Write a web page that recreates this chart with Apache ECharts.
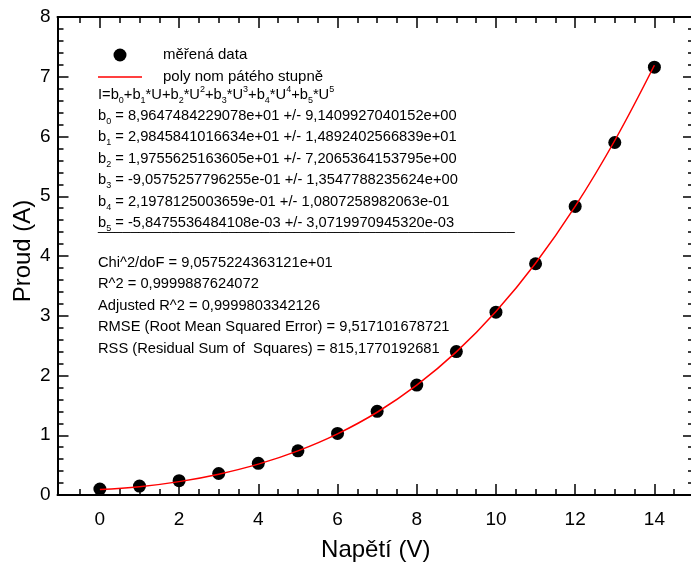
<!DOCTYPE html>
<html><head><meta charset="utf-8">
<script src="https://cdn.jsdelivr.net/npm/echarts@6/dist/echarts.min.js"></script>
<style>html,body{margin:0;padding:0;background:#fff}#c{width:691px;height:564px}</style>
</head><body><div id="c"></div><script>
// ---- data ----
const voltage = [0, 1, 2, 3, 4, 5, 6, 7, 8, 9, 10, 11, 12, 13, 14];
const current = [0.10, 0.15, 0.24, 0.36, 0.53, 0.74, 1.03, 1.40, 1.84, 2.40, 3.06, 3.87, 4.83, 5.90, 7.16];
const fitCurrent = [0.090, 0.138, 0.224, 0.349, 0.517, 0.739, 1.024, 1.385, 1.838, 2.395, 3.071, 3.879, 4.830, 5.933, 7.192];
const xTickLabels = [0, 2, 4, 6, 8, 10, 12, 14];
const xMinorTicks = [-0.5, 0.5, 1, 1.5, 2.5, 3, 3.5, 4.5, 5, 5.5, 6.5, 7, 7.5, 8.5, 9, 9.5, 10.5, 11, 11.5, 12.5, 13, 13.5, 14.5];
const xRange = [-1.07, 15];
const yRange = [0, 8];
const legendNames = ['měřená data', 'poly nom pátého stupně'];
const modelLine = 'I=b{s|0}+b{s|1}*U+b{s|2}*U{p|2}+b{s|3}*U{p|3}+b{s|4}*U{p|4}+b{s|5}*U{p|5}';
const coefLines = [
  'b{s|0} = 8,9647484229078e+01 +/- 9,1409927040152e+00',
  'b{s|1} = 2,9845841016634e+01 +/- 1,4892402566839e+01',
  'b{s|2} = 1,9755625163605e+01 +/- 7,2065364153795e+00',
  'b{s|3} = -9,0575257796255e-01 +/- 1,3547788235624e+00',
  'b{s|4} = 2,1978125003659e-01 +/- 1,0807258982063e-01',
  'b{s|5} = -5,8475536484108e-03 +/- 3,0719970945320e-03'
];
const statLines = [
  'Chi^2/doF = 9,0575224363121e+01',
  'R^2 = 0,9999887624072',
  'Adjusted R^2 = 0,9999803342126',
  'RMSE (Root Mean Squared Error) = 9,517101678721',
  'RSS (Residual Sum of  Squares) = 815,1770192681'
];

// ---- styling ----
const F = "'Liberation Sans', Arial, sans-serif";
const black = '#000';
const lineSt = {color: black, width: 2};
const tickSt = {color: black, width: 1.5};
const FS = 14.7;
const rich = {
  s: {fontSize: 9, lineHeight: 10, verticalAlign: 'bottom', fontFamily: F, fill: black},
  p: {fontSize: 9, lineHeight: 12, verticalAlign: 'top', fontFamily: F, fill: black}
};
function txt(str, y) {
  return {type: 'text', x: 98, y: y, silent: true,
    style: {text: str, fill: black, fontSize: FS, fontFamily: F, lineHeight: 20, verticalAlign: 'middle', rich: rich}};
}
const graphics = [txt(modelLine, 95)];
coefLines.forEach((s, i) => graphics.push(txt(s, 116 + 21.4 * i)));
graphics.push(txt('_'.repeat(51), 226));
statLines.forEach((s, i) => graphics.push(txt(s, 263 + 21.4 * i)));

function xMajor(pos, withLabels) {
  return {type: 'value', position: pos, min: xRange[0], max: xRange[1],
    axisLine: {show: true, onZero: false, lineStyle: lineSt},
    axisTick: {show: true, inside: true, length: 11, lineStyle: tickSt, customValues: xTickLabels},
    axisLabel: withLabels ? {customValues: xTickLabels, fontSize: 19, color: black, fontFamily: F, margin: 15}
                          : {show: false},
    splitLine: {show: false},
    name: withLabels ? 'Napětí (V)' : '', nameLocation: 'middle', nameGap: 43,
    nameTextStyle: {fontSize: 24, color: black, fontFamily: F}};
}
function xMinor(pos) {
  return {type: 'value', position: pos, min: xRange[0], max: xRange[1],
    axisLine: {show: false, onZero: false},
    axisTick: {show: true, inside: true, length: 6, lineStyle: tickSt, customValues: xMinorTicks},
    axisLabel: {show: false}, splitLine: {show: false}};
}
function yAx(pos, withLabels) {
  return {type: 'value', position: pos, min: yRange[0], max: yRange[1], interval: 1,
    axisLine: {show: true, onZero: false, lineStyle: lineSt},
    axisTick: {show: true, inside: true, length: 11, lineStyle: tickSt},
    minorTick: {show: true, splitNumber: 5, length: 6, lineStyle: tickSt},
    axisLabel: withLabels ? {fontSize: 19, color: black, fontFamily: F, margin: 7, padding: [0, 0, 8, 0]} : {show: false},
    splitLine: {show: false}, minorSplitLine: {show: false},
    name: withLabels ? 'Proud (A)' : '', nameLocation: 'middle', nameGap: 22, nameMoveOverlap: false,
    nameTextStyle: {fontSize: 24, color: black, fontFamily: F, padding: [0, 0, 0, 10]}};
}

const chart = echarts.init(document.getElementById('c'), null, {renderer: 'canvas'});
chart.setOption({
  animation: false,
  backgroundColor: '#fff',
  textStyle: {fontFamily: F},
  grid: {left: 57.5, top: 17, width: 636.5, height: 478, containLabel: false, outerBoundsMode: 'none'},
  xAxis: [xMajor('bottom', true), xMinor('bottom'), xMajor('top', false), xMinor('top')],
  yAxis: [yAx('left', true), yAx('right', false)],
  legend: {
    orient: 'vertical', left: 98, top: 47.5, padding: 0, itemWidth: 44, itemHeight: 13, itemGap: 7,
    selectedMode: false,
    textStyle: {fontSize: 15, color: black, fontFamily: F, padding: [0, 0, 0, 16]},
    data: [
      {name: legendNames[0], icon: 'circle'},
      {name: legendNames[1], icon: 'path://M0,0 L44,0 L44,1.5 L0,1.5 Z'}
    ]
  },
  series: [
    {name: legendNames[0], type: 'scatter', xAxisIndex: 0, yAxisIndex: 0, symbolSize: 13,
     itemStyle: {color: black, opacity: 1}, z: 2,
     data: voltage.map((u, i) => [u, current[i]])},
    {name: legendNames[1], type: 'line', xAxisIndex: 0, yAxisIndex: 0, smooth: 0.4, symbol: 'none',
     lineStyle: {color: '#ff0000', width: 1.5}, itemStyle: {color: '#ff0000'}, z: 3,
     data: voltage.map((u, i) => [u, fitCurrent[i]])}
  ],
  graphic: graphics
});
</script></body></html>
